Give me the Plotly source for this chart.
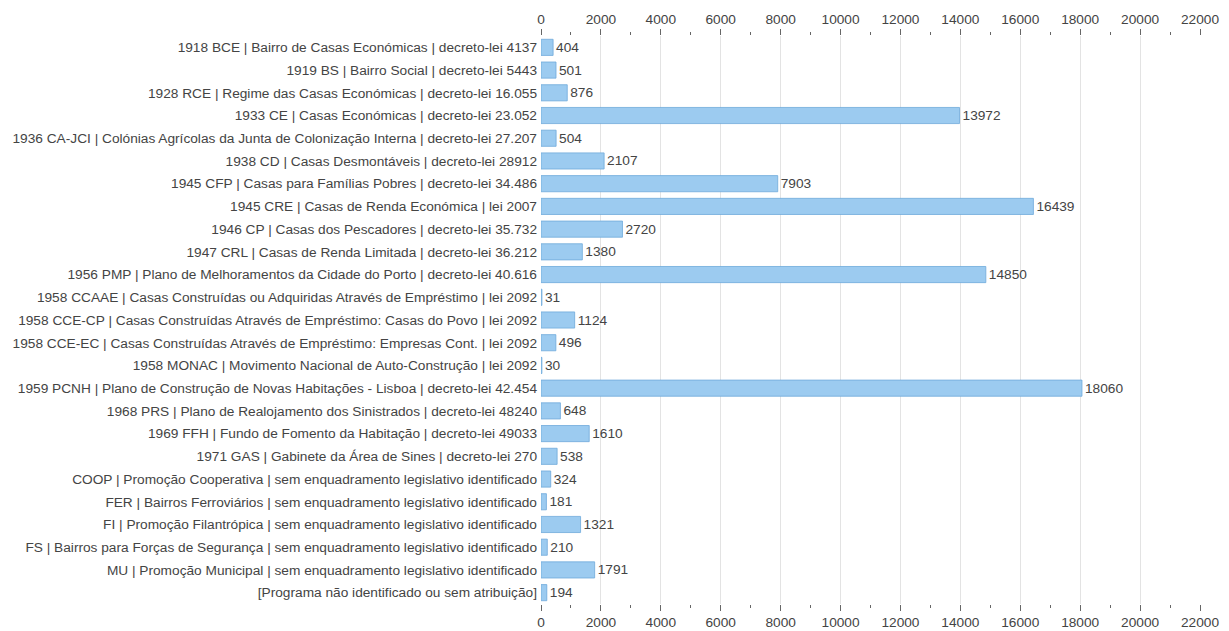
import plotly.graph_objects as go

categories = [
    "1918 BCE | Bairro de Casas Económicas | decreto-lei 4137",
    "1919 BS | Bairro Social | decreto-lei 5443",
    "1928 RCE | Regime das Casas Económicas | decreto-lei 16.055",
    "1933 CE | Casas Económicas | decreto-lei 23.052",
    "1936 CA-JCI | Colónias Agrícolas da Junta de Colonização Interna | decreto-lei 27.207",
    "1938 CD | Casas Desmontáveis | decreto-lei 28912",
    "1945 CFP | Casas para Famílias Pobres | decreto-lei 34.486",
    "1945 CRE | Casas de Renda Económica | lei 2007",
    "1946 CP | Casas dos Pescadores | decreto-lei 35.732",
    "1947 CRL | Casas de Renda Limitada | decreto-lei 36.212",
    "1956 PMP | Plano de Melhoramentos da Cidade do Porto | decreto-lei 40.616",
    "1958 CCAAE | Casas Construídas ou Adquiridas Através de Empréstimo | lei 2092",
    "1958 CCE-CP | Casas Construídas Através de Empréstimo: Casas do Povo | lei 2092",
    "1958 CCE-EC | Casas Construídas Através de Empréstimo: Empresas Cont. | lei 2092",
    "1958 MONAC | Movimento Nacional de Auto-Construção | lei 2092",
    "1959 PCNH | Plano de Construção de Novas Habitações - Lisboa | decreto-lei 42.454",
    "1968 PRS | Plano de Realojamento dos Sinistrados | decreto-lei 48240",
    "1969 FFH | Fundo de Fomento da Habitação | decreto-lei 49033",
    "1971 GAS | Gabinete da Área de Sines | decreto-lei 270",
    "COOP | Promoção Cooperativa | sem enquadramento legislativo identificado",
    "FER | Bairros Ferroviários | sem enquadramento legislativo identificado",
    "FI | Promoção Filantrópica | sem enquadramento legislativo identificado",
    "FS | Bairros para Forças de Segurança | sem enquadramento legislativo identificado",
    "MU | Promoção Municipal | sem enquadramento legislativo identificado",
    "[Programa não identificado ou sem atribuição]",
]
values = [404, 501, 876, 13972, 504, 2107, 7903, 16439, 2720, 1380, 14850, 31,
          1124, 496, 30, 18060, 648, 1610, 538, 324, 181, 1321, 210, 1791, 194]

x_range = [0, 22000]
x_dtick = 2000
x_minor_dtick = 1000

FONT = "Liberation Sans, Arial, sans-serif"
TXT = "#444444"
FS = 13.7

fig = go.Figure()
fig.add_trace(go.Bar(
    x=values, y=categories, orientation="h",
    marker=dict(color="#9CCBF0", line=dict(color="#6FA9DB", width=0.8)),
    text=[str(v) for v in values], textposition="outside",
    textfont=dict(family=FONT, size=FS, color=TXT),
    cliponaxis=False, hoverinfo="x+y",
))
# invisible trace to drive the top axis
fig.add_trace(go.Scatter(
    x=[0], y=[categories[0]], xaxis="x2", mode="markers",
    marker=dict(opacity=0, size=1), hoverinfo="skip", showlegend=False,
))

axis_common = dict(
    range=x_range, dtick=x_dtick, tick0=0, tickformat="d",
    ticks="outside", ticklen=6, tickwidth=1, tickcolor="#666666",
    tickfont=dict(family=FONT, size=FS, color=TXT),
    showline=False, zeroline=False, automargin=False,
    minor=dict(dtick=x_minor_dtick, ticks="outside", ticklen=3, tickcolor="#666666", showgrid=False),
)

fig.update_layout(
    width=1229, height=631,
    margin=dict(l=541, r=29, t=36, b=27),
    paper_bgcolor="white", plot_bgcolor="white",
    showlegend=False,
    bargap=0.29,
    font=dict(family=FONT, size=FS, color=TXT),
    xaxis=dict(side="bottom", showgrid=True, gridcolor="#E3E3E3", gridwidth=1, **axis_common),
    xaxis2=dict(side="top", overlaying="x", matches="x", showgrid=False, **axis_common),
    yaxis=dict(range=[len(categories) - 0.5, -0.5], autorange=False,
               showgrid=False, ticks="", showline=False, automargin=False,
               tickfont=dict(family=FONT, size=FS, color=TXT), ticklabelstandoff=3),
)

fig.write_html(
    "out.html",
    config={"displayModeBar": False},
    post_script="document.body.style.margin='0';document.body.style.overflow='hidden';",
)
